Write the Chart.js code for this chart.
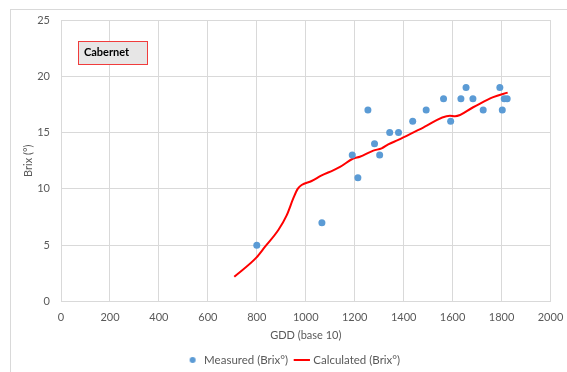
<!DOCTYPE html>
<html><head><meta charset="utf-8">
<script src="https://cdn.jsdelivr.net/npm/chart.js@4"></script>
<style>html,body{margin:0;padding:0;background:#fff}#wrap{width:567px;height:372px;position:relative}</style>
</head><body><div id="wrap"><canvas id="c" width="567" height="372"></canvas></div>
<script>
const measuredX = [800, 1066, 1190, 1213, 1254, 1281, 1302, 1343, 1379, 1437, 1492, 1563, 1592, 1634, 1655, 1683, 1725, 1793, 1803, 1811, 1823];
const measuredY = [5, 7, 13, 11, 17, 14, 13, 15, 15, 16, 17, 18, 16, 18, 19, 18, 17, 19, 17, 18, 18];
const calcX = [708, 798, 833, 888, 922, 949, 967, 983, 1024, 1065, 1112, 1140, 1194, 1221, 1276, 1310, 1337, 1378, 1480, 1589, 1610, 1684, 1766, 1825];
const calcY = [2.2, 3.9, 4.85, 6.35, 7.65, 9.15, 10.0, 10.35, 10.7, 11.2, 11.65, 11.95, 12.7, 12.85, 13.4, 13.6, 13.95, 14.35, 15.45, 16.5, 16.45, 17.25, 18.15, 18.55];
const xTicks = [0, 200, 400, 600, 800, 1000, 1200, 1400, 1600, 1800, 2000];
const yTicks = [0, 5, 10, 15, 20, 25];
const seriesNames = ['Measured (Brix°)', 'Calculated (Brix°)'];
const boxLabel = 'Cabernet';

const FONT = 'Lato, "Open Sans", sans-serif';
const TXT = '#595959';
const GRID = '#d9d9d9';

const dot = document.createElement('canvas');
dot.width = 8; dot.height = 8;
{ const g = dot.getContext('2d'); g.fillStyle = '#5b9bd5'; g.beginPath(); g.arc(4, 4, 3, 0, Math.PI * 2); g.fill(); }

const decor = {
  id: 'decor',
  beforeDraw(chart) {
    const ctx = chart.ctx;
    ctx.save();
    ctx.strokeStyle = GRID; ctx.lineWidth = 1;
    ctx.strokeRect(10.5, 9.5, 600, 400);
    ctx.restore();
  },
  afterDraw(chart) {
    const ctx = chart.ctx;
    ctx.save();
    ctx.fillStyle = '#e7e6e6';
    ctx.fillRect(78.5, 41.5, 69, 23);
    ctx.strokeStyle = '#f03c3c'; ctx.lineWidth = 1;
    ctx.strokeRect(78.5, 41.5, 69, 23);
    ctx.fillStyle = '#000';
    ctx.font = 'bold 11px ' + FONT;
    ctx.textBaseline = 'middle';
    ctx.fillText(boxLabel, 84, 52);
    ctx.restore();
  }
};

new Chart(document.getElementById('c'), {
  type: 'scatter',
  data: {
    datasets: [
      { label: seriesNames[0], data: measuredX.map((x, i) => ({x, y: measuredY[i]})),
        backgroundColor: '#5b9bd5', borderColor: '#5b9bd5', pointRadius: 3.5, pointBorderWidth: 0, showLine: false },
      { label: seriesNames[1], data: calcX.map((x, i) => ({x, y: calcY[i]})),
        borderColor: '#ff0000', backgroundColor: '#ff0000', borderWidth: 2, pointRadius: 0,
        showLine: true, cubicInterpolationMode: 'monotone', pointStyle: 'line' }
    ]
  },
  options: {
    responsive: false, animation: false, devicePixelRatio: 1,
    layout: { padding: { left: 36.5, right: 16.5, top: 20, bottom: -3.75 } },
    plugins: {
      tooltip: { enabled: false },
      legend: {
        position: 'bottom',
        labels: {
          usePointStyle: true, boxHeight: 12, color: TXT, padding: 8,
          font: { family: FONT, size: 11.5 },
          generateLabels(chart) {
            const items = Chart.defaults.plugins.legend.labels.generateLabels(chart);
            items[0].pointStyle = dot;
            items[1].pointStyle = 'line';
            items[1].lineWidth = 2;
            items[1].strokeStyle = '#ff0000';
            return items;
          }
        }
      }
    },
    scales: {
      x: {
        type: 'linear', min: 0, max: 2000,
        afterBuildTicks(s) { s.ticks = xTicks.map(v => ({value: v})); },
        afterFit(s) { s.height = 44.75; s.paddingLeft = 0; s.paddingRight = 0; },
        grid: { color: GRID, drawTicks: false },
        border: { color: GRID },
        ticks: { color: TXT, padding: 9, font: { family: FONT, size: 11 }, maxRotation: 0, callback: v => String(v) },
        title: { display: true, text: 'GDD (base 10)', color: TXT, padding: { top: 0, bottom: 4.65 }, font: { family: FONT, size: 11 } }
      },
      y: {
        type: 'linear', min: 0, max: 25,
        afterBuildTicks(s) { s.ticks = yTicks.map(v => ({value: v})); },
        afterFit(s) { s.width = 24.5; s.paddingTop = 0; s.paddingBottom = 0; },
        grid: { color: GRID, drawTicks: false },
        border: { color: GRID },
        ticks: { color: TXT, padding: 11, font: { family: FONT, size: 11 }, callback: v => String(v) },
        title: { display: true, text: 'Brix (°)', color: TXT, padding: { top: -15.1, bottom: 0 }, font: { family: FONT, size: 11 } }
      }
    }
  },
  plugins: [decor]
});
</script></body></html>
